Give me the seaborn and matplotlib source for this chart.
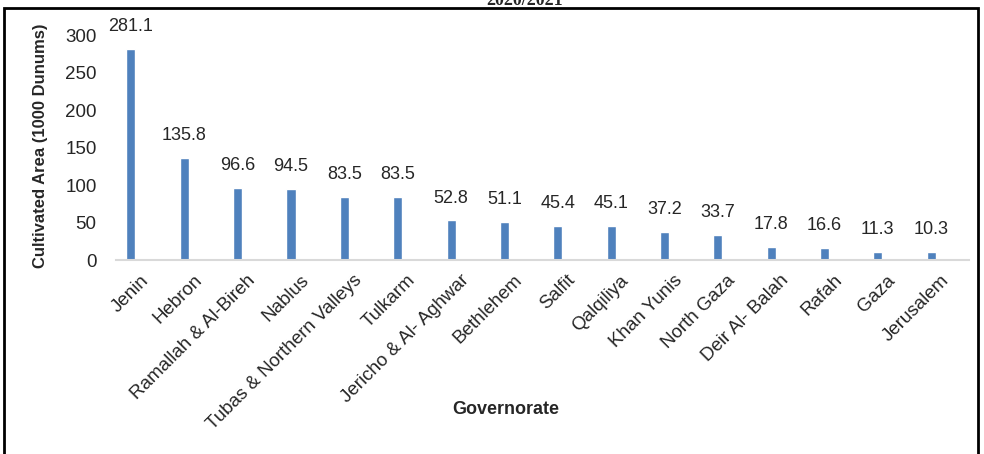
import matplotlib
matplotlib.use("Agg")
import matplotlib.pyplot as plt
import matplotlib.patches as patches
import matplotlib.transforms as mtransforms
import pandas as pd
import seaborn as sns

# Cultivated area by governorate, 2020/2021 (1000 dunums)
governorates = [
    "Jenin", "Hebron", "Ramallah & Al-Bireh", "Nablus",
    "Tubas & Northern Valleys", "Tulkarm", "Jericho & Al- Aghwar",
    "Bethlehem", "Salfit", "Qalqiliya", "Khan Yunis", "North Gaza",
    "Deir Al- Balah", "Rafah", "Gaza", "Jerusalem",
]
area = [281.1, 135.8, 96.6, 94.5, 83.5, 83.5, 52.8, 51.1,
        45.4, 45.1, 37.2, 33.7, 17.8, 16.6, 11.3, 10.3]

df = pd.DataFrame({"governorate": governorates, "area": area})

sns.set_style("white")
plt.rcParams["font.family"] = ["Liberation Sans", "DejaVu Sans"]

fig = plt.figure(figsize=(9.84, 4.54), dpi=100)
ax = fig.add_axes([0.1179, 0.4273, 0.8669, 0.4956])

sns.barplot(data=df, x="governorate", y="area", color="#4f81bd",
            width=0.17, saturation=1, ax=ax)

ax.bar_label(ax.containers[0], fmt="%.1f", padding=10, fontsize=13)

ax.set_ylim(0, 300)
ax.set_xlim(-0.28, 15.71)
ax.set_yticks(range(0, 301, 50))
ax.tick_params(axis="y", length=0, labelsize=13.5, pad=14)
ax.tick_params(axis="x", length=0, labelsize=13.5, pad=2)

offset = mtransforms.ScaledTranslation(15 / 100, -15 / 100, fig.dpi_scale_trans)
for lbl in ax.get_xticklabels():
    lbl.set_rotation(45)
    lbl.set_ha("right")
    lbl.set_va("center")
    lbl.set_rotation_mode("anchor")
    lbl.set_transform(lbl.get_transform() + offset)

for side in ["top", "right", "left"]:
    ax.spines[side].set_visible(False)
ax.spines["bottom"].set_color("#d9d9d9")
ax.spines["bottom"].set_linewidth(1.5)

ax.set_xlabel("")
ax.set_ylabel("")
fig.text(0.514, 0.098, "Governorate", ha="center", va="center",
         fontsize=13, fontweight="bold")
fig.text(0.041, 0.68, "Cultivated Area (1000 Dunums)", ha="center",
         va="center", rotation=90, fontsize=12, fontweight="bold")

# title cut at top edge, as in the source figure
fig.text(0.533, 1 - 5 / 454, "2020/2021", ha="center", va="baseline",
         fontsize=13, fontweight="bold", family="Liberation Serif")

# frame around the chart
fig.patches.append(patches.Rectangle(
    (4 / 984, -0.05), 974 / 984, 1.05 - 8 / 454, transform=fig.transFigure,
    fill=False, edgecolor="black", linewidth=2, clip_on=False))

fig.savefig("out.png", dpi=100)
